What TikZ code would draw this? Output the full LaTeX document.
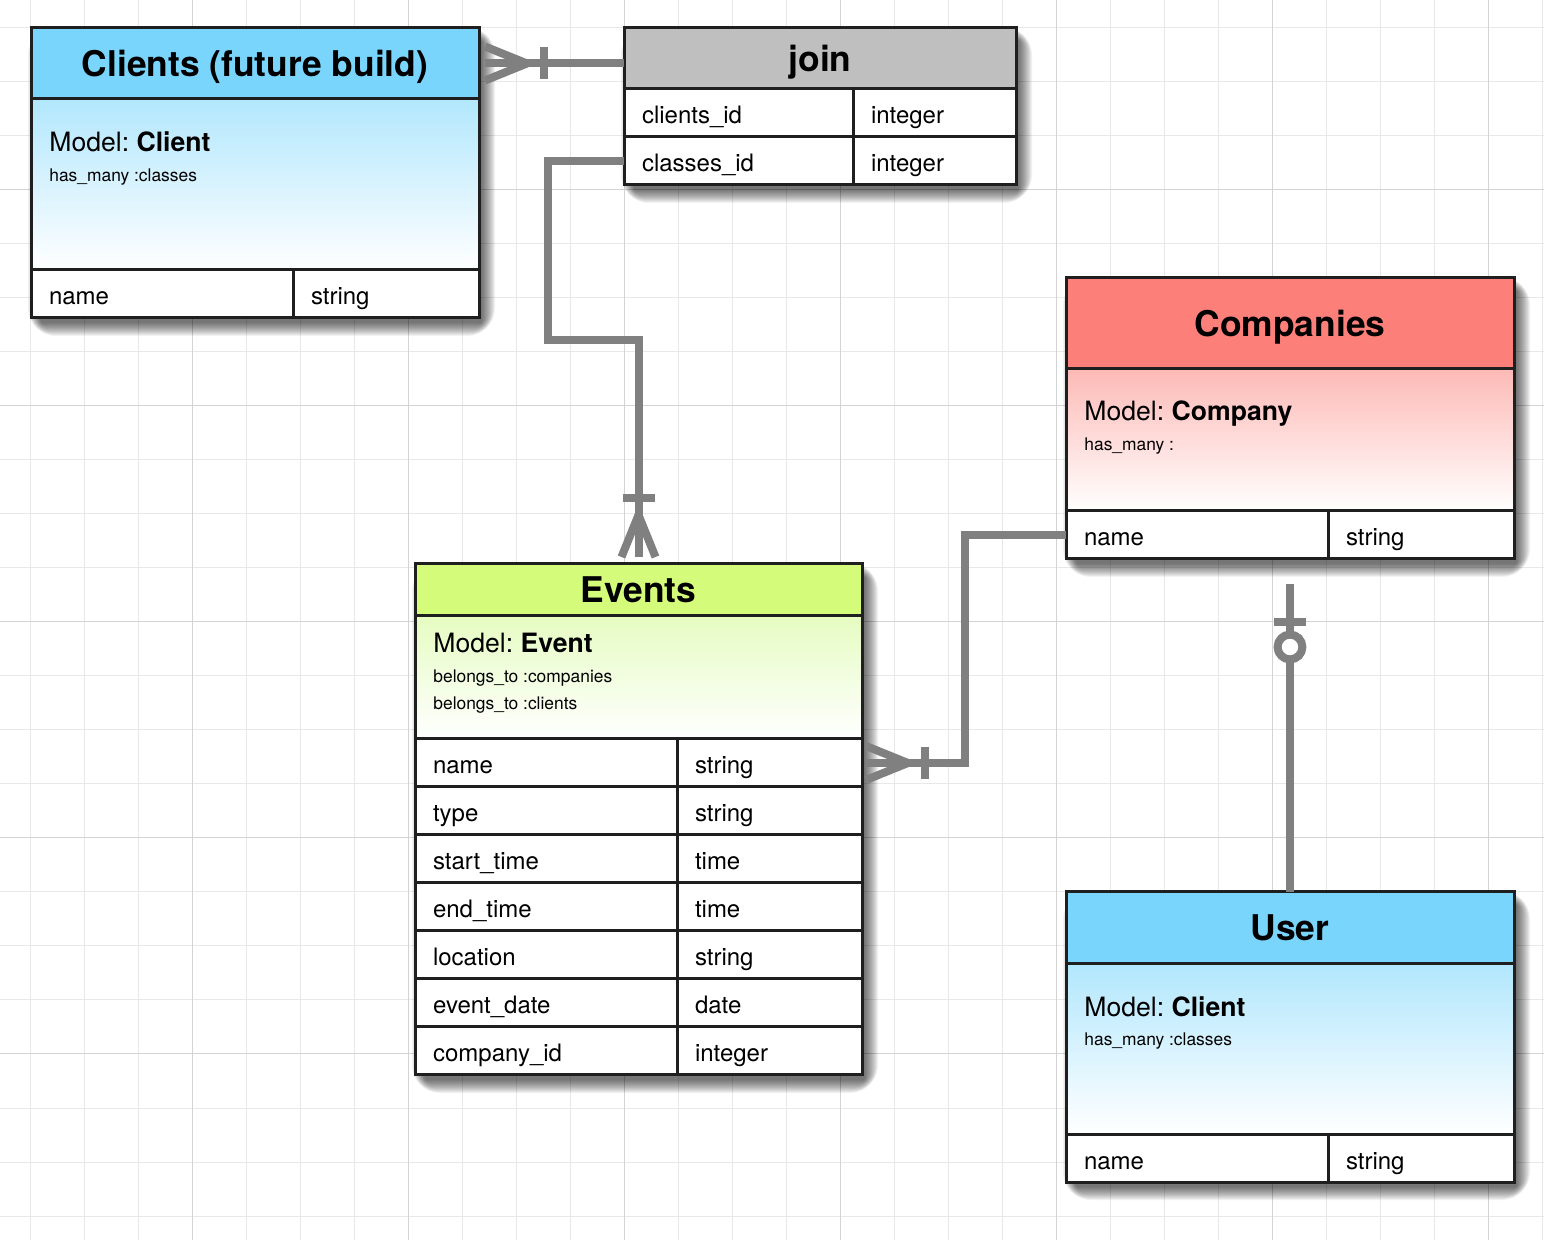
\documentclass[tikz,border=0pt]{standalone}
\usepackage{fontspec}
\setmainfont{TeX Gyre Heros}
\usetikzlibrary{positioning, calc, backgrounds}

\definecolor{edge}{HTML}{1F1F1F}
\definecolor{relgray}{HTML}{808080}
\definecolor{gridminor}{HTML}{E8E8E8}
\definecolor{gridmajor}{HTML}{D3D3D3}
\definecolor{clientblue}{HTML}{7AD5FC}
\definecolor{clientpale}{HTML}{B2E7FD}
\definecolor{companyred}{HTML}{FC8079}
\definecolor{companypale}{HTML}{FDBAB6}
\definecolor{eventgreen}{HTML}{D5FB7A}
\definecolor{eventpale}{HTML}{E6FCC2}
\definecolor{joingray}{HTML}{BFBFBF}

\pgfdeclarelayer{shadow}
\pgfsetlayers{background,shadow,main}
\frenchspacing

\begin{document}
\begin{tikzpicture}[x=0.5pt, y=-0.5pt]
    % Define the styles
    \tikzset{
        head/.style = {draw=edge, line width=1.5pt, outer sep=0pt, inner sep=0pt, minimum width=224pt, text height=12.7pt, text depth=0pt, font=\bfseries\fontsize{17.7}{20}\selectfont},
        body/.style = {draw=edge, line width=1.5pt, outer sep=0pt, minimum width=224pt, bottom color=white},
        cell/.style = {draw=edge, fill=white, line width=1.5pt, outer sep=0pt, inner xsep=9pt, inner ysep=0pt, minimum height=24pt, text width=#1, text height=12.5pt, text depth=1.5pt, align=left, font=\fontsize{12}{14}\selectfont},
        model/.style = {anchor=base west, inner sep=0pt, font=\fontsize{13.3}{15}\selectfont},
        assoc/.style = {anchor=base west, inner sep=0pt, font=\fontsize{8.7}{10}\selectfont},
        rel/.style = {draw=relgray, line width=4pt},
        shadowstep/.style = {fill=black, opacity=0.05, rounded corners=#1},
        crowfoot/.pic = {\draw[rel] (0,-17) -- (42,0) -- (0,17); \draw[rel] (59,-16) -- (59,16);},
        zeroone/.pic = {\draw[rel] (38,-16) -- (38,16); \draw[rel, fill=white] (63,0) circle[radius=6.2pt];},
    }
    \useasboundingbox (0,0) rectangle (1544,1240);

    % Grid paper
    \begin{pgfonlayer}{background}
        \fill[white] (0,0) rectangle (1544,1240);
        \foreach \gx in {30,84,...,1542} \draw[gridminor, line width=0.5pt] (\gx,0) -- (\gx,1240);
        \foreach \gy in {28,82,...,1216} \draw[gridminor, line width=0.5pt] (0,\gy) -- (1544,\gy);
        \foreach \gx in {192,408,...,1488} \draw[gridmajor, line width=0.5pt] (\gx,0) -- (\gx,1240);
        \foreach \gy in {190,406,...,1054} \draw[gridmajor, line width=0.5pt] (0,\gy) -- (1544,\gy);
    \end{pgfonlayer}

    % Clients (future build)
    \node[head, fill=clientblue, minimum height=35.5pt, anchor=north west] (clientsHead) at (31,28) {Clients (future build)};
    \node[body, top color=clientpale, minimum height=85.5pt, below=0pt of clientsHead] (clientsBody) {};
    \node[model] (clientsModel) at ($(clientsBody.north west)+(18,53)$) {Model: \textbf{Client}};
    \node[assoc] (clientsAssoc) at ($(clientsBody.north west)+(18,83)$) {has\_many :classes};
    \node[cell=113pt, anchor=north west] (clientsName) at (clientsBody.south west) {name};
    \node[cell=75pt, right=0pt of clientsName] (clientsType) {string};

    % join
    \node[head, fill=joingray, minimum width=196pt, minimum height=30.5pt, anchor=north west] (joinHead) at (624,28) {join};
    \node[cell=96.5pt, anchor=north west] (joinClients) at (joinHead.south west) {clients\_id};
    \node[cell=63.5pt, right=0pt of joinClients] (joinClientsType) {integer};
    \node[cell=96.5pt, below=0pt of joinClients] (joinClasses) {classes\_id};
    \node[cell=63.5pt, right=0pt of joinClasses] (joinClassesType) {integer};

    % Companies
    \node[head, fill=companyred, minimum height=45.5pt, anchor=north west] (companiesHead) at (1066,278) {Companies};
    \node[body, top color=companypale, minimum height=71pt, below=0pt of companiesHead] (companiesBody) {};
    \node[model] (companiesModel) at ($(companiesBody.north west)+(18,52)$) {Model: \textbf{Company}};
    \node[assoc] (companiesAssoc) at ($(companiesBody.north west)+(18,82)$) {has\_many :};
    \node[cell=113pt, anchor=north west] (companiesName) at (companiesBody.south west) {name};
    \node[cell=75pt, right=0pt of companiesName] (companiesType) {string};

    % Events
    \node[head, fill=eventgreen, minimum width=223.5pt, minimum height=26pt, anchor=north west] (eventsHead) at (415,564) {Events};
    \node[body, top color=eventpale, minimum width=223.5pt, minimum height=61.5pt, below=0pt of eventsHead] (eventsBody) {};
    \node[model] (eventsModel) at ($(eventsBody.north west)+(18,37)$) {Model: \textbf{Event}};
    \node[assoc] (eventsAssocA) at ($(eventsBody.north west)+(18,67)$) {belongs\_to :companies};
    \node[assoc] (eventsAssocB) at ($(eventsBody.north west)+(18,94)$) {belongs\_to :clients};
    \node[cell=113pt, anchor=north west] (eventsName1) at (eventsBody.south west) {name};
    \node[cell=74.5pt, right=0pt of eventsName1] (eventsType1) {string};
    \node[cell=113pt, below=0pt of eventsName1] (eventsName2) {type};
    \node[cell=74.5pt, right=0pt of eventsName2] (eventsType2) {string};
    \node[cell=113pt, below=0pt of eventsName2] (eventsName3) {start\_time};
    \node[cell=74.5pt, right=0pt of eventsName3] (eventsType3) {time};
    \node[cell=113pt, below=0pt of eventsName3] (eventsName4) {end\_time};
    \node[cell=74.5pt, right=0pt of eventsName4] (eventsType4) {time};
    \node[cell=113pt, below=0pt of eventsName4] (eventsName5) {location};
    \node[cell=74.5pt, right=0pt of eventsName5] (eventsType5) {string};
    \node[cell=113pt, below=0pt of eventsName5] (eventsName6) {event\_date};
    \node[cell=74.5pt, right=0pt of eventsName6] (eventsType6) {date};
    \node[cell=113pt, below=0pt of eventsName6] (eventsName7) {company\_id};
    \node[cell=74.5pt, right=0pt of eventsName7] (eventsType7) {integer};

    % User
    \node[head, fill=clientblue, minimum height=36pt, anchor=north west] (userHead) at (1066,892) {User};
    \node[body, top color=clientpale, minimum height=85pt, below=0pt of userHead] (userBody) {};
    \node[model] (userModel) at ($(userBody.north west)+(18,52)$) {Model: \textbf{Client}};
    \node[assoc] (userAssoc) at ($(userBody.north west)+(18,81)$) {has\_many :classes};
    \node[cell=113pt, anchor=north west] (userName) at (userBody.south west) {name};
    \node[cell=75pt, right=0pt of userName] (userType) {string};

    % Soft shadows behind the tables
    \begin{pgfonlayer}{shadow}
        \foreach \first/\last in {clientsHead/clientsType, joinHead/joinClassesType, companiesHead/companiesType, eventsHead/eventsType7, userHead/userType}
            \foreach \s in {1,...,14}
                \fill[shadowstep=\s pt] ($(\first.north west)+(11-\s,13-\s)$) rectangle ($(\last.south east)+(2+\s,4+\s)$);
    \end{pgfonlayer}

    % Connecting lines
    \draw[rel] (joinHead.west |- clientsHead.east) -- ($(clientsHead.east)+(6,0)$);
    \pic at ($(clientsHead.east)+(6,0)$) {crowfoot};
    \draw[rel] (joinClasses.west) -- ++(-76,0) |- ($(eventsHead.north)+(0,-224)$) -- ($(eventsHead.north)+(0,-7)$);
    \pic[rotate=90] at ($(eventsHead.north)+(0,-7)$) {crowfoot};
    \draw[rel] (companiesName.west) -- ++(-101,0) |- ($(eventsType1.east)+(4,0)$);
    \pic at ($(eventsType1.east)+(4,0)$) {crowfoot};
    \draw[rel] (userHead.north) -- ($(userHead.north |- companiesName.south)+(0,25)$);
    \pic[rotate=-90] at ($(userHead.north |- companiesName.south)+(0,25)$) {zeroone};

\end{tikzpicture}
\end{document}
